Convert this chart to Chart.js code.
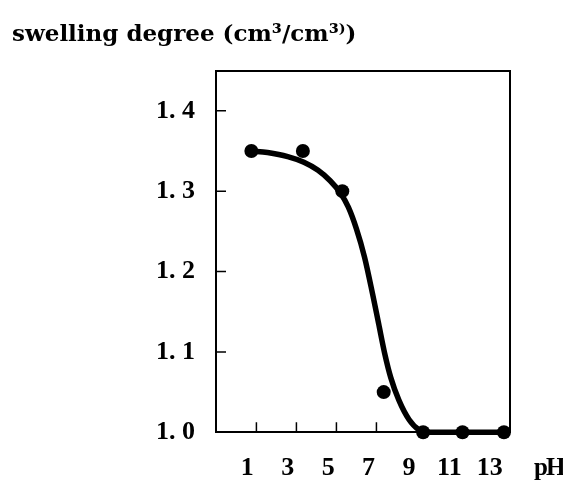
<!DOCTYPE html>
<html>
<head>
<meta charset="utf-8">
<title>Swelling degree vs pH</title>
<script src="https://cdn.jsdelivr.net/npm/chart.js@4.4.1/dist/chart.umd.min.js"></script>
<style>
  html, body { margin: 0; padding: 0; background: #fff; }
  #chart { display: block; }
</style>
</head>
<body>
<canvas id="chart" width="563" height="485"></canvas>
<script>
// measured points
const phValues = [1.2, 3.75, 5.7, 7.75, 9.7, 11.65, 13.7];
const swelling = [1.35, 1.35, 1.30, 1.05, 1.0, 1.0, 1.0];

// hand-drawn fit curve
const fitPh = [1.2, 2.0, 3.0, 3.8, 4.5, 5.1, 5.6, 6.0, 6.4, 6.8, 7.2, 7.5, 7.8, 8.1, 8.5, 9.0, 9.5, 9.9, 13.7];
const fitSwelling = [1.350, 1.348, 1.343, 1.336, 1.326, 1.313, 1.298, 1.280, 1.253, 1.218, 1.172, 1.135, 1.098, 1.068, 1.040, 1.016, 1.003, 1.0, 1.0];

// axis ticks
const xTickLabels = [1, 3, 5, 7, 9, 11, 13];
const xTickMarks = [1.45, 3.43, 5.41, 7.39];   // the small inner marks sit a bit right of the labels
const yTicks = [1.0, 1.1, 1.2, 1.3, 1.4];
const yTickMarks = [1.1, 1.2, 1.3, 1.4];

const titleText = 'swelling degree (cm³/cm³⁾)';
const xUnit = 'pH';

const FONT = 'Liberation Serif';
const INK = '#000';

// inner tick marks + the "pH" label
const innerTicks = {
  id: 'innerTicks',
  afterDraw(chart) {
    const { ctx, chartArea, scales } = chart;
    ctx.save();
    ctx.strokeStyle = INK;
    ctx.lineWidth = 1.5;
    ctx.beginPath();
    yTickMarks.forEach(v => {
      const py = scales.y.getPixelForValue(v);
      ctx.moveTo(chartArea.left, py);
      ctx.lineTo(chartArea.left + 10, py);
    });
    xTickMarks.forEach(v => {
      const px = scales.x.getPixelForValue(v);
      ctx.moveTo(px, chartArea.bottom);
      ctx.lineTo(px, chartArea.bottom - 10);
    });
    ctx.stroke();

    ctx.fillStyle = INK;
    ctx.font = 'bold 25px "' + FONT + '"';
    ctx.letterSpacing = '-2px';
    ctx.textAlign = 'left';
    ctx.textBaseline = 'middle';
    ctx.fillText(xUnit, chartArea.right + 24, chartArea.bottom + 36);
    ctx.restore();
  }
};

new Chart(document.getElementById('chart'), {
  type: 'scatter',
  data: {
    datasets: [
      {
        label: 'fit',
        data: fitPh.map((x, i) => ({ x, y: fitSwelling[i] })),
        showLine: true,
        borderColor: INK,
        borderWidth: 5.5,
        pointRadius: 0,
        cubicInterpolationMode: 'monotone',
        clip: false
      },
      {
        label: 'measured',
        data: phValues.map((x, i) => ({ x, y: swelling[i] })),
        showLine: false,
        backgroundColor: INK,
        borderColor: INK,
        pointRadius: 7,
        pointBorderWidth: 0,
        clip: false
      }
    ]
  },
  options: {
    responsive: false,
    animation: false,
    layout: { padding: { left: 12, right: 53, top: 0, bottom: 0 } },
    plugins: {
      legend: { display: false },
      tooltip: { enabled: false },
      title: {
        display: true,
        text: titleText,
        align: 'start',
        color: INK,
        font: { family: 'DejaVu Serif', size: 23, weight: 'bold' },
        padding: { top: 21, bottom: 22 }
      }
    },
    scales: {
      x: {
        type: 'linear',
        min: -0.55,
        max: 14,
        afterBuildTicks: s => { s.ticks = xTickLabels.map(v => ({ value: v })); },
        afterFit: s => { s.height = 52.7; },
        grid: { display: false, drawTicks: false },
        border: { display: true, color: INK, width: 2 },
        ticks: {
          color: INK,
          padding: 20,
          font: { family: FONT, size: 26, weight: 'bold' }
        }
      },
      y: {
        type: 'linear',
        min: 1.0,
        max: 1.45,
        afterBuildTicks: s => { s.ticks = yTicks.map(v => ({ value: v })); },
        afterFit: s => { s.width = 204; },
        grid: { display: false, drawTicks: false },
        border: { display: true, color: INK, width: 2 },
        ticks: {
          color: INK,
          padding: 21,
          font: { family: FONT, size: 26, weight: 'bold' },
          callback: v => v.toFixed(1).replace('.', '. ')
        }
      },
      x2: {
        type: 'linear',
        position: 'top',
        min: -0.55,
        max: 14,
        afterFit: s => { s.height = 0; },
        grid: { display: false, drawTicks: false },
        border: { display: true, color: INK, width: 2 },
        ticks: { display: false }
      },
      y2: {
        type: 'linear',
        position: 'right',
        min: 1.0,
        max: 1.45,
        afterFit: s => { s.width = 0; },
        grid: { display: false, drawTicks: false },
        border: { display: true, color: INK, width: 2 },
        ticks: { display: false }
      }
    }
  },
  plugins: [innerTicks]
});
</script>
</body>
</html>
